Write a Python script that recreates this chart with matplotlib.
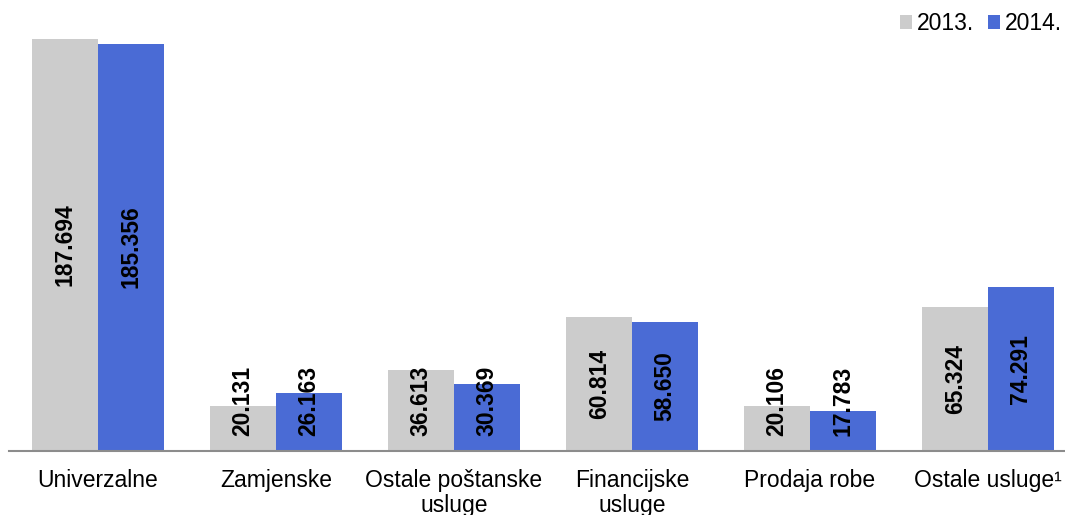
import matplotlib
matplotlib.use("Agg")
import matplotlib.pyplot as plt
from matplotlib.patches import Patch
import numpy as np

categories = ["Univerzalne", "Zamjenske", "Ostale poštanske\nusluge",
              "Financijske\nusluge", "Prodaja robe", "Ostale usluge\u00b9"]
v2013 = [187.694, 20.131, 36.613, 60.814, 20.106, 65.324]
v2014 = [185.356, 26.163, 30.369, 58.650, 17.783, 74.291]
series_labels = ["2013.", "2014."]
colors = ["#cccccc", "#4a6bd5"]

plt.rcParams['font.family'] = ['Liberation Sans', 'DejaVu Sans']

W, H = 1065, 515
fig = plt.figure(figsize=(W / 100, H / 100), dpi=100)
ax = fig.add_axes([9 / W, (H - 450.5) / H, 1068 / W, 439 / H])

x = np.arange(len(categories))
bw = 0.368
min_center = 22.5
for vals, col, off in [(v2013, colors[0], -bw / 2), (v2014, colors[1], bw / 2)]:
    ax.bar(x + off, vals, width=bw, color=col, linewidth=0)
    for xi, v in zip(x + off, vals):
        yc = max(v / 2, min_center)
        ax.text(xi, yc, f"{v:.3f}", rotation=90, ha='center', va='center',
                fontsize=16.5, fontweight='bold', color='black')

ax.set_xlim(-0.5, len(categories) - 0.5)
ax.set_ylim(0, 200)
ax.set_yticks([])
for s in ['top', 'right', 'left']:
    ax.spines[s].set_visible(False)
ax.spines['bottom'].set_color('#8c8c8c')
ax.spines['bottom'].set_linewidth(1.5)
ax.set_xticks(x)
ax.set_xticklabels(categories, fontsize=16.5)
ax.tick_params(axis='x', length=0, pad=13)
for t in ax.get_xticklabels():
    t.set_linespacing(1.15)

handles = [Patch(facecolor=c, edgecolor='none') for c in colors]
fig.legend(handles, series_labels, loc='upper right', bbox_to_anchor=(1062 / W, 1 - 12 / H),
           ncol=2, frameon=False, fontsize=16.5, handlelength=0.55, handleheight=0.55,
           handletextpad=0.2, columnspacing=0.6, borderaxespad=0, borderpad=0)

fig.savefig("out.png", dpi=100)
